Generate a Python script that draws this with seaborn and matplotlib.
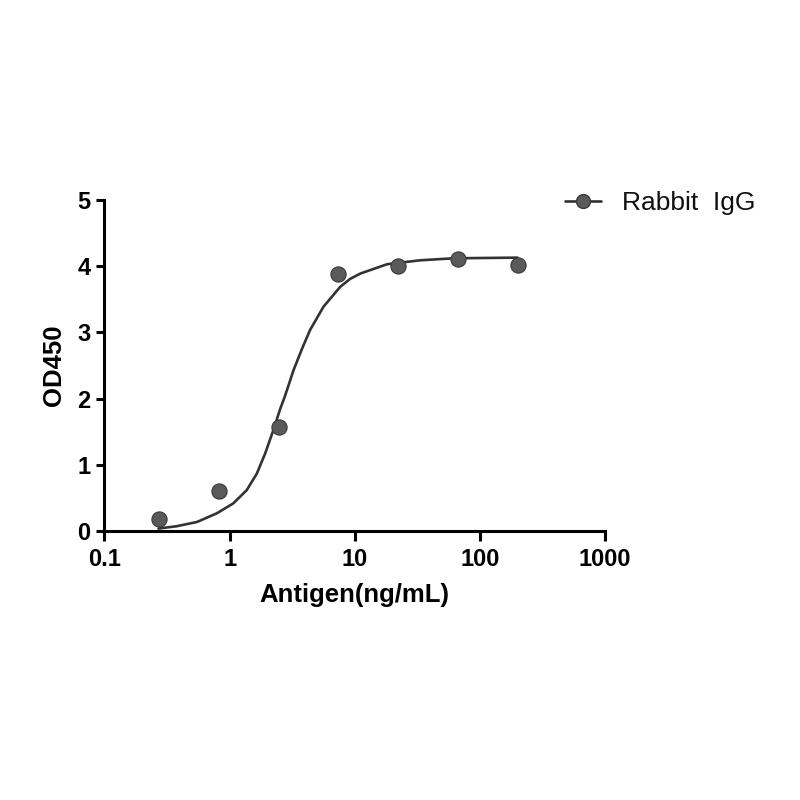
import matplotlib
matplotlib.use("Agg")
import matplotlib.pyplot as plt
from matplotlib.lines import Line2D
import seaborn as sns
import pandas as pd

# measured points
conc = [0.274, 0.823, 2.47, 7.41, 22.2, 66.7, 200]
od450 = [0.18, 0.61, 1.58, 3.89, 4.00, 4.11, 4.02]

# fitted curve
curve_x = [0.27, 0.38, 0.55, 0.79, 1.07, 1.37, 1.65, 1.92, 2.24, 2.53, 2.78, 3.24,
           3.8, 4.4, 5.63, 7.66, 9.2, 11.1, 18.1, 33.4, 61.6, 200]
curve_y = [0.04, 0.076, 0.14, 0.27, 0.42, 0.62, 0.87, 1.17, 1.53, 1.84, 2.05, 2.43,
           2.76, 3.04, 3.39, 3.69, 3.81, 3.89, 4.03, 4.09, 4.12, 4.13]

series_name = "Rabbit  IgG"
x_ticks = [0.1, 1, 10, 100, 1000]
x_tick_labels = ["0.1", "1", "10", "100", "1000"]
y_ticks = [0, 1, 2, 3, 4, 5]

sns.set_theme(style="white")
plt.rcParams['font.family'] = ['Liberation Sans', 'DejaVu Sans']
plt.rcParams['text.color'] = 'black'

fig = plt.figure(figsize=(8, 8), dpi=100)
ax = fig.add_axes([0.1306, 0.336, 0.6257, 0.414])

pts = pd.DataFrame({"x": conc, "y": od450})
crv = pd.DataFrame({"x": curve_x, "y": curve_y})

line_col = "#333333"
pt_col = "#5a5a5a"
edge_col = "#3a3a3a"

sns.lineplot(data=crv, x="x", y="y", ax=ax, color=line_col, linewidth=1.9, sort=True, zorder=2)
sns.scatterplot(data=pts, x="x", y="y", ax=ax, color=pt_col, s=120, edgecolor=edge_col,
                linewidth=0.8, zorder=3)

ax.set_xscale("log")
ax.set_xlim(0.1, 1000)
ax.set_ylim(0, 5)
ax.set_xticks(x_ticks)
ax.set_xticklabels(x_tick_labels)
ax.set_yticks(y_ticks)
ax.minorticks_off()

for s in ["top", "right"]:
    ax.spines[s].set_visible(False)
for s in ["left", "bottom"]:
    ax.spines[s].set_linewidth(2.2)
    ax.spines[s].set_color("black")

ax.tick_params(axis="x", which="major", direction="out", length=7, width=2.2,
               color="black", labelcolor="black", labelsize=17, pad=5, bottom=True)
ax.tick_params(axis="y", which="major", direction="out", length=6, width=2.2,
               color="black", labelcolor="black", labelsize=17, pad=4, left=True)
for lab in ax.get_xticklabels() + ax.get_yticklabels():
    lab.set_fontweight("bold")

ax.set_xlabel("Antigen(ng/mL)", fontsize=18.5, fontweight="bold", labelpad=9, color="black")
ax.set_ylabel("OD450", fontsize=18.5, fontweight="bold", labelpad=8, color="black")

handle = Line2D([0], [0], color=line_col, linewidth=1.9, marker="o", markersize=10,
                markerfacecolor=pt_col, markeredgecolor=edge_col)
fig.legend([handle], [series_name], loc="center left", bbox_to_anchor=(0.706, 0.746),
           bbox_transform=fig.transFigure, frameon=False, fontsize=19,
           handlelength=1.36, handletextpad=0.8, borderpad=0, borderaxespad=0,
           labelcolor="#111111")

fig.savefig("out.png", dpi=100, facecolor="white")
